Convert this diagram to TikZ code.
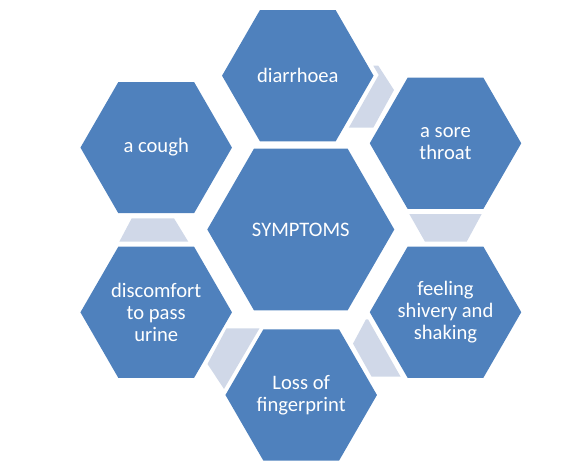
\documentclass[tikz,border=0pt]{standalone}
\usepackage{fontspec}
\setmainfont{Carlito}
\usetikzlibrary{shapes.geometric}
\definecolor{hexblue}{HTML}{4F81BD}
\definecolor{linkgray}{HTML}{D0D8E8}
\tikzset{
  hexa/.style={regular polygon, regular polygon sides=6, fill=hexblue,
    inner sep=0pt, outer sep=0pt},
  smallhex/.style={hexa, minimum size=151.5pt},
  bighex/.style={hexa, minimum size=187pt},
  hextext/.style={inner sep=0pt, text=white, align=center,
    font=\fontsize{20.6}{22}\selectfont},
  link/.style={fill=linkgray}
}
\begin{document}
\begin{tikzpicture}[x=1pt,y=-1pt]
\useasboundingbox (0,0) rectangle (573,472);
% hexagons
\node[smallhex] (diar) at (297.8,75.7) {};
\node[smallhex] (sore) at (445.5,143.3) {};
\node[smallhex] (cough) at (156.2,147.6) {};
\node[bighex] (sym) at (300.8,229.5) {};
\node[smallhex] (disc) at (156.2,312.3) {};
\node[smallhex] (feel) at (445.5,312.2) {};
\node[smallhex] (loss) at (301.2,395) {};
% texts
\node[hextext] (diarT) at (diar) {diarrhoea};
\node[hextext] (soreT) at (sore) {a sore\\throat};
\node[hextext] (coughT) at (cough) {a cough};
\node[hextext] (symT) at (sym) {SYMPTOMS};
\node[hextext] (discT) at (disc) {discomfort\\to pass\\urine};
\node[hextext] (feelT) at (feel) {feeling\\shivery and\\shaking};
\node[hextext] (lossT) at (loss) {Loss of\\fingerprint};
% linking shapes between neighbouring hexagons
\fill[link] (373.3,65.7) -- (378.3,65.7) -- (394,90) -- (373.3,127.7)
  -- (348.8,127.7) -- (378.7,75) -- cycle;
\fill[link] (409.3,214) -- (481.7,214) -- (466.7,241.7) -- (425,241.7) -- cycle;
\fill[link] (366,319.3) -- (368,319.3) -- (400.5,376.5) -- (371.5,376.5)
  -- (353,343.6) -- cycle;
\fill[link] (226.5,328.3) -- (259.5,328.3) -- (224,389) -- (207.5,364) -- cycle;
\fill[link] (131.7,218.3) -- (174,218.3) -- (188.3,241.7) -- (119.3,241.7) -- cycle;
\end{tikzpicture}
\end{document}
